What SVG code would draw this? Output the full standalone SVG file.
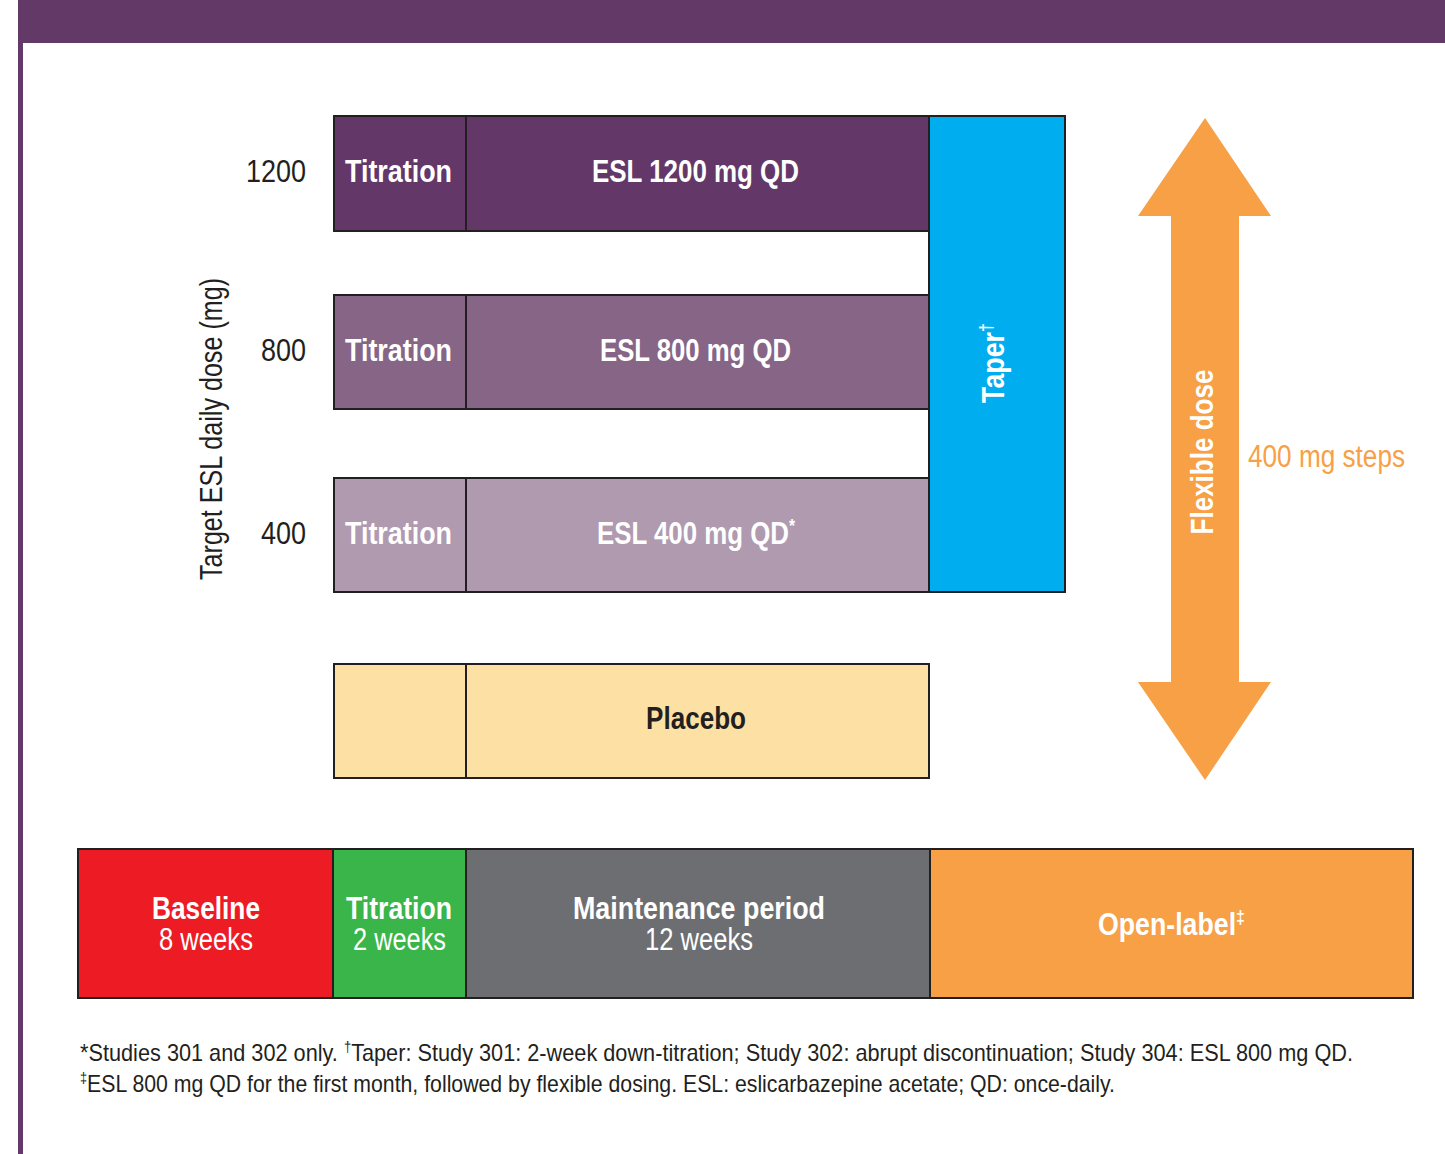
<svg xmlns="http://www.w3.org/2000/svg" width="1445" height="1154" viewBox="0 0 1445 1154">
<style>
.b{font-family:"Liberation Sans",Arial,sans-serif;font-weight:bold;fill:#fff;font-size:32px}
.l{font-family:"Liberation Sans",Arial,sans-serif;fill:#fff;font-size:31px}
.d{font-family:"Liberation Sans",Arial,sans-serif;fill:#231f20;font-size:31px}
.f{font-family:"Liberation Sans",Arial,sans-serif;fill:#231f20;font-size:24px}
.bx{stroke:#231f20;stroke-width:2}
.sup{font-size:60%}
</style>
<rect width="1445" height="1154" fill="#fff"/>
<rect x="18" y="0" width="1427" height="43" fill="#633968"/>
<rect x="18" y="43" width="5" height="1111" fill="#633968"/>

<g id="axis">
<text class="d" text-anchor="end" x="306" y="182" textLength="60" lengthAdjust="spacingAndGlyphs">1200</text>
<text class="d" text-anchor="end" x="306" y="361" textLength="45" lengthAdjust="spacingAndGlyphs">800</text>
<text class="d" text-anchor="end" x="306" y="544" textLength="45" lengthAdjust="spacingAndGlyphs">400</text>
<text class="d" text-anchor="middle" transform="translate(222,429) rotate(-90)" textLength="302" lengthAdjust="spacingAndGlyphs">Target ESL daily dose (mg)</text>
</g>

<g id="row1200">
<rect class="bx" x="334" y="116" width="132" height="115" fill="#633868"/>
<rect class="bx" x="466" y="116" width="463" height="115" fill="#633868"/>
<text class="b" x="345" y="182" textLength="107" lengthAdjust="spacingAndGlyphs">Titration</text>
<text class="b" x="592" y="182" textLength="207" lengthAdjust="spacingAndGlyphs">ESL 1200 mg QD</text>
</g>
<g id="row800">
<rect class="bx" x="334" y="295" width="132" height="114" fill="#866586"/>
<rect class="bx" x="466" y="295" width="463" height="114" fill="#866586"/>
<text class="b" x="345" y="361" textLength="107" lengthAdjust="spacingAndGlyphs">Titration</text>
<text class="b" x="600" y="361" textLength="191" lengthAdjust="spacingAndGlyphs">ESL 800 mg QD</text>
</g>
<g id="row400">
<rect class="bx" x="334" y="478" width="132" height="114" fill="#b09ab0"/>
<rect class="bx" x="466" y="478" width="463" height="114" fill="#b09ab0"/>
<text class="b" x="345" y="544" textLength="107" lengthAdjust="spacingAndGlyphs">Titration</text>
<text class="b" x="597" y="544" textLength="198" lengthAdjust="spacingAndGlyphs">ESL 400 mg QD<tspan class="sup" dy="-12">*</tspan></text>
</g>
<g id="taper">
<rect class="bx" x="929" y="116" width="136" height="476" fill="#00aeef"/>
<text class="b" text-anchor="middle" transform="translate(1004,363) rotate(-90)" textLength="80" lengthAdjust="spacingAndGlyphs">Taper<tspan class="sup" dy="-12">†</tspan></text>
</g>
<g id="placebo">
<rect class="bx" x="334" y="664" width="132" height="114" fill="#fde0a4"/>
<rect class="bx" x="466" y="664" width="463" height="114" fill="#fde0a4"/>
<text class="b" style="fill:#231f20" x="646" y="729" textLength="100" lengthAdjust="spacingAndGlyphs">Placebo</text>
</g>

<g id="flexible">
<polygon points="1205,118 1271,216 1239,216 1239,682 1271,682 1205,780 1138,682 1171,682 1171,216 1138,216" fill="#f7a046"/>
<text class="b" text-anchor="middle" transform="translate(1213,452) rotate(-90)" textLength="165" lengthAdjust="spacingAndGlyphs">Flexible dose</text>
<text class="l" style="fill:#f7a046" x="1248" y="467" textLength="157" lengthAdjust="spacingAndGlyphs">400 mg steps</text>
</g>

<g id="timeline">
<rect class="bx" x="78" y="849" width="255" height="149" fill="#ed1c24"/>
<rect class="bx" x="333" y="849" width="133" height="149" fill="#39b54a"/>
<rect class="bx" x="466" y="849" width="464" height="149" fill="#6d6e71"/>
<rect class="bx" x="930" y="849" width="483" height="149" fill="#f7a046"/>
<text class="b" x="152" y="919" textLength="108" lengthAdjust="spacingAndGlyphs">Baseline</text>
<text class="l" x="159" y="950" textLength="94" lengthAdjust="spacingAndGlyphs">8 weeks</text>
<text class="b" x="346" y="919" textLength="106" lengthAdjust="spacingAndGlyphs">Titration</text>
<text class="l" x="353" y="950" textLength="93" lengthAdjust="spacingAndGlyphs">2 weeks</text>
<text class="b" x="573" y="919" textLength="252" lengthAdjust="spacingAndGlyphs">Maintenance period</text>
<text class="l" x="645" y="950" textLength="108" lengthAdjust="spacingAndGlyphs">12 weeks</text>
<text class="b" x="1098" y="935" textLength="147" lengthAdjust="spacingAndGlyphs">Open-label<tspan class="sup" dy="-12">‡</tspan></text>
</g>

<g id="footnotes">
<text class="f" x="80" y="1061" textLength="1273" lengthAdjust="spacingAndGlyphs">*Studies 301 and 302 only. <tspan class="sup" dy="-9">†</tspan><tspan dy="9">Taper: Study 301: 2-week down-titration; Study 302: abrupt discontinuation; Study 304: ESL 800 mg QD.</tspan></text>
<text class="f" x="80" y="1092" textLength="1035" lengthAdjust="spacingAndGlyphs"><tspan class="sup" dy="-9">‡</tspan><tspan dy="9">ESL 800 mg QD for the first month, followed by flexible dosing. ESL: eslicarbazepine acetate; QD: once-daily.</tspan></text>
</g>
</svg>
